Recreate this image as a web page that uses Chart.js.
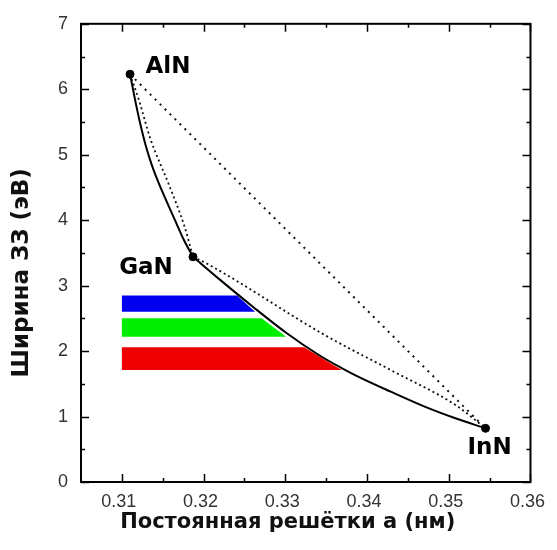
<!DOCTYPE html>
<html>
<head>
<meta charset="utf-8">
<script src="https://cdn.jsdelivr.net/npm/chart.js@4.4.0/dist/chart.umd.min.js"></script>
<style>
  html, body { margin: 0; padding: 0; background: #fff; }
  #wrap { width: 557px; height: 550px; }
</style>
</head>
<body>
<div id="wrap"><canvas id="gapChart"></canvas></div>
<script>
// бинарные нитриды: постоянная решётки a (нм) и ширина ЗЗ (эВ)
const compounds = ['AlN', 'GaN', 'InN'];
const latticeA = [0.3110, 0.3187, 0.3545];
const bandGap = [6.23, 3.44, 0.82];

// сплошные кривые: AlGaN и InGaN
const alganA = [0.3110, 0.3116, 0.3122, 0.3129, 0.3137, 0.3145, 0.3155, 0.3165, 0.3175, 0.3187];
const alganE = [6.23, 5.85, 5.50, 5.15, 4.83, 4.57, 4.28, 4.00, 3.72, 3.44];
const inganA = [0.3187, 0.3221, 0.3261, 0.3301, 0.3341, 0.3369, 0.3389, 0.3429, 0.3469, 0.3509, 0.3545];
const inganE = [3.44, 3.08, 2.67, 2.28, 1.94, 1.74, 1.61, 1.38, 1.16, 0.97, 0.82];

// пунктирные линии
const dotAlGaA = [0.3110, 0.3121, 0.3135, 0.3157, 0.3177, 0.3187];
const dotAlGaE = [6.23, 5.83, 5.24, 4.56, 3.89, 3.44];
const dotInGaA = [0.3187, 0.3205, 0.3349, 0.3429, 0.3509, 0.3545];
const dotInGaE = [3.44, 3.33, 2.24, 1.71, 1.17, 0.82];
const dotAlInA = [0.3110, 0.3545];
const dotAlInE = [6.23, 0.82];

// цветные полосы (синий, зелёный, красный)
const bandColors = ['#0000ee', '#00ee00', '#ee0000'];
const bandStart = [0.3100, 0.3100, 0.3100];
const bandTop = [2.85, 2.50, 2.06];
const bandBottom = [2.60, 2.22, 1.71];
const bandEndTop = [0.3241, 0.3271, 0.3323];
const bandEndBottom = [0.3263, 0.3301, 0.3369];

// деления осей
const xTickLabels = [0.31, 0.32, 0.33, 0.34, 0.35, 0.36];
const xMinorTicks = [0.315, 0.325, 0.335, 0.345, 0.355];
const yTickLabels = [0, 1, 2, 3, 4, 5, 6, 7];
const yMinorTicks = [0.5, 1.5, 2.5, 3.5, 4.5, 5.5, 6.5];

const xTitle = 'Постоянная решётки а (нм)';
const yTitle = 'Ширина ЗЗ (эВ)';

const pts = (xs, ys) => xs.map((v, i) => ({ x: v, y: ys[i] }));

const solid = (xs, ys) => ({
  data: pts(xs, ys), showLine: true, borderColor: '#000', borderWidth: 2,
  pointRadius: 0, cubicInterpolationMode: 'monotone', fill: false
});
const dotted = (xs, ys, dash, w) => ({
  data: pts(xs, ys), showLine: true, borderColor: '#111', borderWidth: w,
  borderDash: dash, pointRadius: 0, cubicInterpolationMode: 'monotone', fill: false
});

const bands = bandColors.map((c, i) => ({
  data: [
    { x: bandStart[i], y: bandTop[i] },
    { x: bandEndTop[i], y: bandTop[i] },
    { x: bandEndBottom[i], y: bandBottom[i] },
    { x: bandStart[i], y: bandBottom[i] }
  ],
  showLine: true, borderWidth: 0, pointRadius: 0,
  backgroundColor: c, fill: 'shape'
}));

// рамка графика с внутренними делениями и подписи осей
const frameTicks = {
  id: 'frameTicks',
  afterDraw(chart) {
    const { ctx, chartArea: a, scales: { x, y } } = chart;
    ctx.save();
    ctx.strokeStyle = '#000';
    ctx.lineWidth = 1.5;
    ctx.beginPath();
    const xt = (v, len) => {
      const p = Math.round(x.getPixelForValue(v)) + 0.5;
      ctx.moveTo(p, a.bottom); ctx.lineTo(p, a.bottom - len);
      ctx.moveTo(p, a.top); ctx.lineTo(p, a.top + len);
    };
    const yt = (v, len) => {
      const p = Math.round(y.getPixelForValue(v)) + 0.5;
      ctx.moveTo(a.left, p); ctx.lineTo(a.left + len, p);
      ctx.moveTo(a.right, p); ctx.lineTo(a.right - len, p);
    };
    xTickLabels.forEach(v => xt(v, 8));
    xMinorTicks.forEach(v => xt(v, 4));
    yTickLabels.forEach(v => yt(v, 8));
    yMinorTicks.forEach(v => yt(v, 4));
    ctx.stroke();
    ctx.lineWidth = 2;
    ctx.strokeRect(a.left, a.top, a.right - a.left, a.bottom - a.top);

    ctx.fillStyle = '#111';
    ctx.font = 'bold 21px "DejaVu Sans", sans-serif';
    ctx.textAlign = 'center';
    ctx.textBaseline = 'middle';
    ctx.fillText(xTitle, (a.left + a.right) / 2 - 18, a.bottom + 41);
    ctx.save();
    ctx.translate(a.left - 59, (a.top + a.bottom) / 2 + 20);
    ctx.rotate(-Math.PI / 2);
    ctx.font = 'bold 23px "DejaVu Sans", sans-serif';
    ctx.fillText(yTitle, 0, 0);
    ctx.restore();
    ctx.restore();
  }
};

// подписи соединений у точек
const labelOffsets = [[38, -7], [-47, 11], [4, 20]];
const compoundLabels = {
  id: 'compoundLabels',
  afterDatasetsDraw(chart) {
    const { ctx, scales: { x, y } } = chart;
    ctx.save();
    ctx.fillStyle = '#000';
    ctx.font = 'bold 23px "DejaVu Sans", sans-serif';
    ctx.textAlign = 'center';
    ctx.textBaseline = 'middle';
    compounds.forEach((name, i) => {
      const px = x.getPixelForValue(latticeA[i]);
      const py = y.getPixelForValue(bandGap[i]);
      ctx.fillText(name, px + labelOffsets[i][0], py + labelOffsets[i][1]);
    });
    ctx.restore();
  }
};

const tickFont = { family: '"Liberation Sans", Arial, sans-serif', size: 18 };

new Chart(document.getElementById('gapChart'), {
  type: 'scatter',
  data: {
    datasets: [
      {
        data: pts(latticeA, bandGap), pointRadius: 4, pointHoverRadius: 4,
        pointBackgroundColor: '#000', pointBorderColor: '#000', showLine: false
      },
      solid(alganA, alganE),
      solid(inganA, inganE),
      dotted(dotAlGaA, dotAlGaE, [2, 3], 1.8),
      dotted(dotInGaA, dotInGaE, [2, 3], 1.8),
      dotted(dotAlInA, dotAlInE, [2, 5], 2),
      ...bands
    ]
  },
  options: {
    responsive: true,
    maintainAspectRatio: false,
    animation: false,
    layout: { padding: { top: 23, right: 18, bottom: 0, left: 0 } },
    plugins: { legend: { display: false }, tooltip: { enabled: false } },
    scales: {
      x: {
        type: 'linear', min: 0.305, max: 0.36,
        afterBuildTicks: s => { s.ticks = xTickLabels.map(v => ({ value: v })); },
        afterFit: s => { s.height = 68; },
        ticks: {
          callback: v => v.toFixed(2), font: tickFont, color: '#333',
          padding: 9, labelOffset: -3, maxRotation: 0, autoSkip: false
        },
        grid: { display: false, drawTicks: false },
        border: { display: false }
      },
      y: {
        type: 'linear', min: 0, max: 7,
        afterBuildTicks: s => { s.ticks = yTickLabels.map(v => ({ value: v })); },
        afterFit: s => { s.width = 81; },
        ticks: { font: tickFont, color: '#333', padding: 13 },
        grid: { display: false, drawTicks: false },
        border: { display: false }
      }
    }
  },
  plugins: [frameTicks, compoundLabels]
});
</script>
</body>
</html>
